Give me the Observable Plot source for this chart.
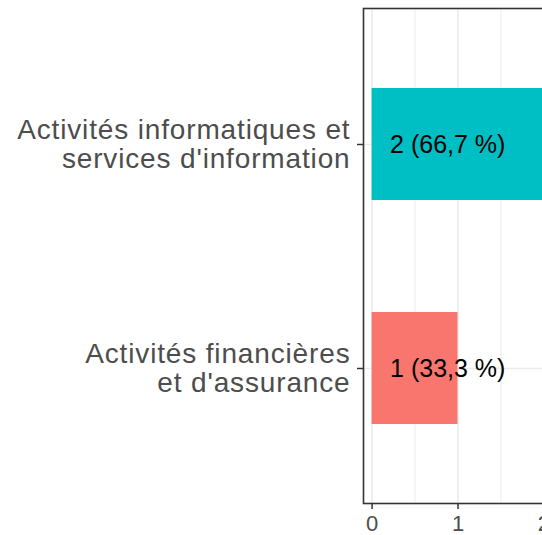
<!DOCTYPE html>
<html>
<head>
<meta charset="utf-8">
<script src="https://cdn.jsdelivr.net/npm/d3@7"></script>
<script src="https://cdn.jsdelivr.net/npm/@observablehq/plot@0.6"></script>
<style>
  html, body { margin: 0; padding: 0; background: white; overflow: hidden; }
  #chart { width: 542px; height: 535px; overflow: hidden; }
  #chart svg { max-width: none !important; }
  #chart g[aria-label="y-axis tick label"] { letter-spacing: 0.85px; }
</style>
</head>
<body>
<div id="chart"></div>
<script>
const categories = ["Activités financières et d'assurance", "Activités informatiques et services d'information"];
const counts = [1, 2];
const valueLabels = ["1 (33,3 %)", "2 (66,7 %)"];
const colors = ["#F8766D", "#00BFC4"];
const tickLabels = ["Activités financières\net d'assurance", "Activités informatiques et\nservices d'information"];
const xTicks = [0, 1, 2];
const xMinor = [0.5, 1.5];

const data = categories.map((c, i) => ({category: c, count: counts[i], label: valueLabels[i]}));

const chart = Plot.plot({
  width: 560,
  height: 535,
  marginLeft: 363,
  marginRight: 8,
  marginTop: 8,
  marginBottom: 32,
  style: {fontFamily: "'Liberation Sans', Arial, sans-serif", background: "white", overflow: "visible", maxWidth: "none"},
  x: {domain: [-0.1, 2.1], label: null},
  y: {domain: [categories[1], categories[0]], paddingInner: 0.5, paddingOuter: 0.35, label: null},
  color: {domain: categories, range: colors},
  marks: [
    Plot.ruleX(xMinor, {stroke: "#ebebeb", strokeWidth: 1}),
    Plot.ruleX(xTicks, {stroke: "#ebebeb", strokeWidth: 1.6}),
    Plot.gridY({stroke: "#ebebeb", strokeOpacity: 1, strokeWidth: 1.6}),
    Plot.barX(data, {x: "count", y: "category", fill: "category"}),
    Plot.text(data, {x: 0, y: "category", text: "label", textAnchor: "start", dx: 18, fontSize: 25, fill: "black"}),
    Plot.frame({stroke: "#333", strokeWidth: 1.6}),
    Plot.axisX({ticks: xTicks, tickSize: 6, tickPadding: 5.5, fontSize: 22, stroke: "#333", strokeWidth: 1.5, fill: "#4d4d4d", label: null, tickFormat: d => String(d)}),
    Plot.axisY({tickSize: 6, tickPadding: 7, fontSize: 28, lineHeight: 1.01, stroke: "#333", strokeWidth: 1.5, fill: "#4d4d4d", label: null,
      tickFormat: d => tickLabels[categories.indexOf(d)]})
  ]
});
document.getElementById("chart").appendChild(chart);
</script>
</body>
</html>
